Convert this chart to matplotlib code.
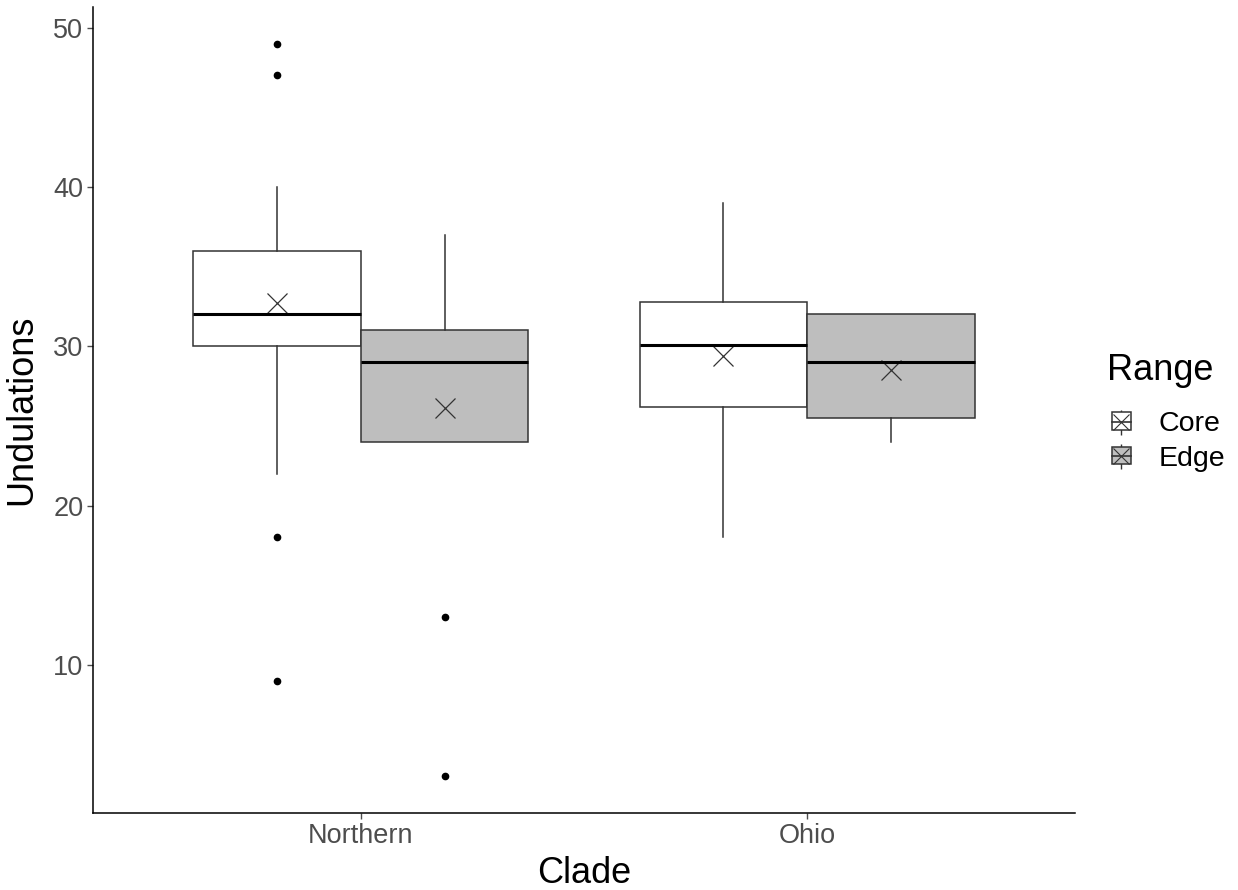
import matplotlib.pyplot as plt
from matplotlib.patches import Patch
from matplotlib.lines import Line2D

plt.rcParams['font.family'] = ['Liberation Sans', 'DejaVu Sans']

clades = ['Northern', 'Ohio']
ranges = ['Core', 'Edge']
fills = {'Core': 'white', 'Edge': '#BEBEBE'}

# box statistics per (clade, range), in the same order
q1 = [30.0, 24.0, 26.2, 25.5]
med = [32.0, 29.0, 30.1, 29.0]
q3 = [36.0, 31.0, 32.8, 32.0]
whislo = [22.0, 24.0, 18.0, 24.0]
whishi = [40.0, 37.0, 39.0, 32.0]
means = [32.7, 26.1, 29.4, 28.5]
fliers = [[49, 47, 18, 9], [13, 3], [], []]

fig = plt.figure(figsize=(12.38, 8.90), dpi=100)
ax = fig.add_axes([93 / 1238, 77 / 890, 982 / 1238, 806 / 890])

width = 0.375
k = 0
for i, c in enumerate(clades):
    for j, r in enumerate(ranges):
        pos = i + 1 + (j - 0.5) * width
        st = dict(q1=q1[k], med=med[k], q3=q3[k], whislo=whislo[k],
                  whishi=whishi[k], fliers=fliers[k], mean=means[k])
        ax.bxp([st], positions=[pos], widths=width, patch_artist=True,
               showcaps=False, showmeans=True,
               boxprops=dict(facecolor=fills[r], edgecolor='#333333', linewidth=1.1),
               medianprops=dict(color='black', linewidth=2.2, zorder=4),
               whiskerprops=dict(color='#333333', linewidth=1.1),
               flierprops=dict(marker='o', markerfacecolor='black',
                               markeredgecolor='black', markersize=4.5),
               meanprops=dict(marker='x', markersize=15, markeredgecolor='#333333',
                              markeredgewidth=0.9))
        k += 1

ax.set_xlim(0.4, 2.6)
ax.set_ylim(0.7, 51.3)
ax.set_xticks([1, 2])
ax.set_xticklabels(clades)
ax.set_yticks([10, 20, 30, 40, 50])
ax.tick_params(labelsize=19.5, colors='#4D4D4D', length=4, width=1, pad=3)
for s in ['top', 'right']:
    ax.spines[s].set_visible(False)
for s in ['left', 'bottom']:
    ax.spines[s].set_linewidth(1.1)
ax.set_xlabel('Clade', fontsize=26, labelpad=5)
ax.set_ylabel('Undulations', fontsize=26, labelpad=10)

# legend: title as its own text, keys below it
fig.text(1107 / 1238, 1 - 370 / 890, 'Range', fontsize=26, va='center', ha='left')
handles = []
for r in ranges:
    handles.append((Line2D([], [], color='#333333', marker='|', markersize=18,
                           linestyle='none', markeredgewidth=1),
                    Patch(facecolor=fills[r], edgecolor='#333333', linewidth=1.1),
                    Line2D([], [], color='#333333', linewidth=1.2),
                    Line2D([], [], color='#333333', marker='x', markersize=11,
                           linestyle='none', markeredgewidth=0.8)))
fig.legend(handles, ranges, loc='upper left',
           bbox_to_anchor=(1112 / 1238, 1 - 411 / 890), frameon=False,
           borderpad=0, borderaxespad=0,
           fontsize=20.5, handlelength=0.65, handleheight=0.55,
           handletextpad=1.0, labelspacing=0.3)

fig.savefig('out.png', dpi=100)
